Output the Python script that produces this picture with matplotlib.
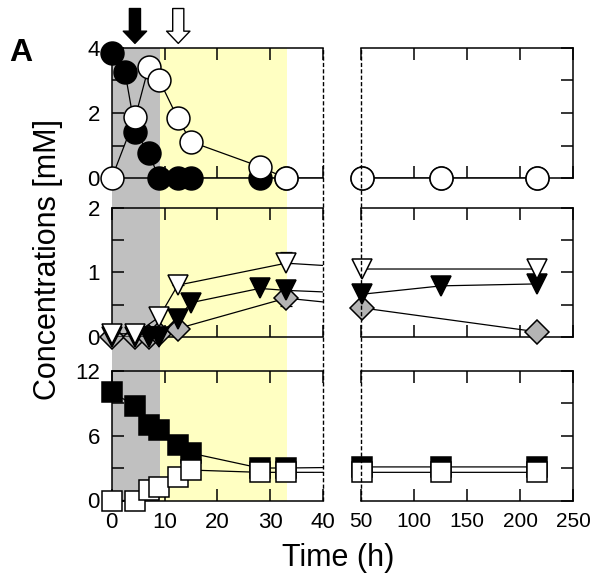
import matplotlib
matplotlib.use("Agg")
import matplotlib.pyplot as plt
import numpy as np
from matplotlib.lines import Line2D

plt.rcParams["font.family"] = ["Liberation Sans", "DejaVu Sans"]

# sampling times (h) per series
t_circ_black = [0, 2.5, 4.5, 7, 9, 12.5, 15, 28, 33, 51, 126, 216]
circ_black = [3.83, 3.27, 1.43, 0.77, 0, 0, 0, 0, 0, 0, 0, 0]
t_circ_white = [0, 4.5, 7, 9, 12.5, 15, 28, 33, 51, 126, 216]
circ_white = [0, 1.89, 3.42, 3.01, 1.84, 1.12, 0.36, 0, 0, 0, 0]

t_tri_white = [0, 4.5, 9, 12.5, 33, 51, 216]
tri_white = [0.05, 0.05, 0.31, 0.80, 1.14, 1.05, 1.05]
tri_white_err = [0, 0, 0, 0.14, 0.17, 0, 0]
t_tri_black = [0, 4.5, 7, 9, 12.5, 15, 28, 33, 51, 126, 216]
tri_black = [0, 0, 0, 0, 0.28, 0.53, 0.75, 0.72, 0.66, 0.79, 0.82]
t_diam = [0, 4.5, 7, 9, 12.5, 33, 51, 216]
diam = [0, 0, 0, 0.05, 0.13, 0.60, 0.45, 0.08]
diam_err = [0, 0, 0, 0, 0, 0.12, 0, 0]

t_sq = [0, 4.5, 7, 9, 12.5, 15, 28, 33, 51, 126, 216]
sq_black = [10, 8.73, 7.0, 6.55, 5.14, 4.37, 3.0, 3.0, 3.1, 3.1, 3.1]
sq_white = [0, 0, 0.94, 1.25, 2.18, 2.81, 2.6, 2.6, 2.6, 2.6, 2.6]

gray_span = (0, 9.1)
yellow_span = (9.1, 33.1)
arrow_black_t = 4.4
arrow_white_t = 12.6

row_ylim = [(0, 4), (0, 2), (0, 12)]
row_yticks = [[0, 1, 2, 3, 4], [0, 0.5, 1, 1.5, 2], [0, 3, 6, 9, 12]]
row_ylabels = [["0", "", "2", "", "4"], ["0", "", "1", "", "2"], ["0", "", "6", "", "12"]]
left_xticks = [0, 10, 20, 30, 40]
right_xticks = [50, 100, 150, 200, 250]

W, H = 597, 576
fig = plt.figure(figsize=(W / 100, H / 100), dpi=100)

lx, lw_ = 111.7 / W, 211.3 / W
rx, rw_ = 360.7 / W, 212.6 / W
rows_px = [(47.7, 178.3), (207.5, 337.0), (370.5, 500.5)]

# shaded phases behind the left column
bg = fig.add_axes([lx, 1 - rows_px[2][1] / H, lw_, (rows_px[2][1] - rows_px[0][0]) / H])
bg.set_xlim(0, 40)
bg.axvspan(*gray_span, color="#c0c0c0", lw=0)
bg.axvspan(*yellow_span, color="#ffffc2", lw=0)
bg.axis("off")

axes = []
for (top, bot), ylim, yt, yl in zip(rows_px, row_ylim, row_yticks, row_ylabels):
    b = 1 - bot / H
    h = (bot - top) / H
    al = fig.add_axes([lx, b, lw_, h], facecolor="none")
    ar = fig.add_axes([rx, b, rw_, h], facecolor="none")
    al.set_xlim(0, 40)
    ar.set_xlim(50, 250)
    al.set_xticks(left_xticks)
    ar.set_xticks(right_xticks)
    for ax in (al, ar):
        ax.set_ylim(*ylim)
        ax.set_yticks(yt)
        for s in ax.spines.values():
            s.set_linewidth(1.1)
        ax.tick_params(direction="in", length=8.5, width=1.1,
                       top=True, bottom=True)
        ax.tick_params(axis="x", pad=8)
        ax.tick_params(axis="y", pad=8.5)
    al.set_yticklabels(yl)
    al.tick_params(labelsize=16)
    ar.tick_params(labelsize=15)
    al.spines["right"].set_visible(False)
    al.tick_params(left=True, right=False)
    ar.spines["left"].set_visible(False)
    ar.tick_params(left=False, right=True, labelleft=False)
    axes.append((al, ar))

for al, ar in axes[:-1]:
    al.tick_params(labelbottom=False)
    ar.tick_params(labelbottom=False)


def draw(pair, t, y, marker, face, ms, z, err=None):
    t = np.asarray(t, float)
    y = np.asarray(y, float)
    for ax, (lo, hi) in zip(pair, [(0, 40), (50, 250)]):
        ax.plot(t, y, "-", color="black", lw=0.9, zorder=z)
        keep = (t >= lo) & (t <= hi)
        if err is not None:
            e = np.asarray(err, float)
            m = keep & (e > 0)
            lower = np.where(marker == "D", e, 0)[m]
            upper = np.where(marker == "D", 0, e)[m]
            ax.errorbar(t[m], y[m], yerr=[lower, upper], fmt="none",
                        ecolor="black", elinewidth=0.9, capsize=4.5,
                        capthick=0.9, zorder=z)
        ax.plot(t[keep], y[keep], ls="none", marker=marker, ms=ms, mfc=face,
                mec="black", mew=1.1, clip_on=False, zorder=z + 0.5)


draw(axes[0], t_circ_black, circ_black, "o", "black", 16.5, 3)
draw(axes[0], t_circ_white, circ_white, "o", "white", 16.5, 4)
draw(axes[1], t_diam, diam, "D", "#b4b4b4", 12.5, 3, diam_err)
draw(axes[1], t_tri_black, tri_black, "v", "black", 14.5, 4)
draw(axes[1], t_tri_white, tri_white, "v", "white", 14.5, 5, tri_white_err)
draw(axes[2], t_sq, sq_black, "s", "black", 14.5, 3)
draw(axes[2], t_sq, sq_white, "s", "white", 14.5, 4)

# dashed edges marking the axis break
y0 = 1 - rows_px[2][1] / H
y1 = 1 - rows_px[0][0] / H
for x in (lx + lw_, rx):
    fig.add_artist(Line2D([x, x], [y0, y1], transform=fig.transFigure,
                          color="black", lw=1.0, ls=(0, (3, 1.6))))

# addition arrows above the top panel
top_ax = axes[0][0]
for t_arr, face in ((arrow_black_t, "black"), (arrow_white_t, "white")):
    top_ax.annotate("", xy=(t_arr, 1.033), xytext=(t_arr, 1.30),
                    xycoords=("data", "axes fraction"),
                    textcoords=("data", "axes fraction"),
                    arrowprops=dict(arrowstyle="simple,head_length=0.55,head_width=1.05,tail_width=0.5",
                                    mutation_scale=16, fc=face, ec="black", lw=1.0,
                                    shrinkA=0, shrinkB=0))

fig.text(21 / W, 1 - 53 / H, "A", fontsize=23, fontweight="bold", ha="center", va="center")
fig.text(48.5 / W, 1 - 259 / H, "Concentrations [mM]", fontsize=22, rotation=90,
         ha="center", va="center")
fig.text(338 / W, 1 - 558 / H, "Time (h)", fontsize=22, ha="center", va="center")

fig.savefig("out.png", dpi=100)
